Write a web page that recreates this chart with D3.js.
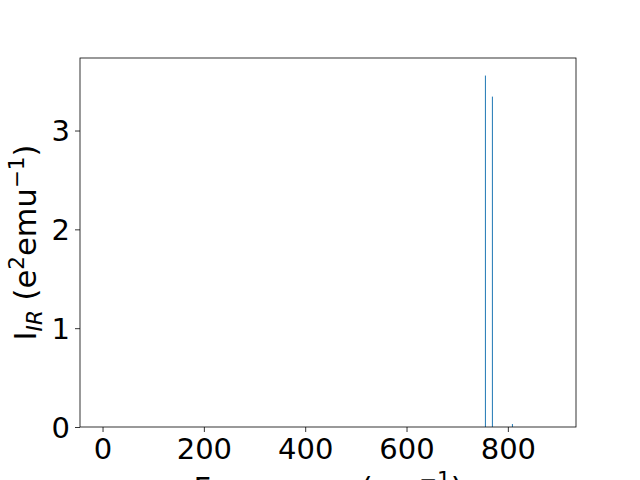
<!DOCTYPE html>
<html>
<head>
<meta charset="utf-8">
<script src="https://cdn.jsdelivr.net/npm/d3@7"></script>
<style>
  body { margin: 0; background: #fff; }
  svg { font-family: "DejaVu Sans", sans-serif; }
</style>
</head>
<body>
<svg id="graphic"></svg>
<script>
// IR peaks (frequency in cm-1, intensity)
const frequencies = [0, 755.7, 769.5, 809, 890]
const intensities = [0, 3.556, 3.343, 0.03, 0]
const xTicks = [0, 200, 400, 600, 800]
const yTicks = [0, 1, 2, 3]

const w = 640
const h = 480
const padLeft = 80, padRight = 576, padTop = 58, padBottom = 427

const data = frequencies.map((f, i) => [f, intensities[i]])

// matplotlib style 5% margins
const minX = d3.min(frequencies), maxX = d3.max(frequencies)
const padX = (maxX - minX) * 0.05
const maxY = d3.max(intensities) * 1.05

const xScale = d3.scaleLinear()
    .domain([minX - padX, maxX + padX])
    .range([padLeft, padRight])

const yScale = d3.scaleLinear()
    .domain([0, maxY])
    .range([padBottom, padTop])

const graphic = d3.select("#graphic")
    .attr("width", w)
    .attr("height", h)

// peaks as thin vertical lines
graphic.selectAll("line.peak")
    .data(data)
    .enter()
    .append("line")
    .attr("class", "peak")
    .attr("x1", d => xScale(d[0]))
    .attr("x2", d => xScale(d[0]))
    .attr("y1", yScale(0))
    .attr("y2", d => yScale(d[1]))
    .attr("stroke", "#1f77b4")
    .attr("stroke-width", 1)

// frame
graphic.append("rect")
    .attr("x", padLeft)
    .attr("y", padTop)
    .attr("width", padRight - padLeft)
    .attr("height", padBottom - padTop)
    .attr("fill", "none")
    .attr("stroke", "#000")
    .attr("stroke-width", 0.8)

const axisBottom = d3.axisBottom(xScale).tickValues(xTicks).tickFormat(d3.format("d")).tickSize(5).tickPadding(6)
const axisLeft = d3.axisLeft(yScale).tickValues(yTicks).tickFormat(d3.format("d")).tickSize(5).tickPadding(5)

const gx = graphic.append("g")
    .attr("transform", `translate(0, ${padBottom})`)
    .call(axisBottom)

const gy = graphic.append("g")
    .attr("transform", `translate(${padLeft}, 0)`)
    .call(axisLeft)

for (const g of [gx, gy]) {
    g.select(".domain").remove()
    g.selectAll(".tick line").attr("stroke", "#000").attr("stroke-width", 0.8)
    g.selectAll(".tick text")
        .attr("fill", "#000")
        .style("font-size", "29px")
        .style("font-family", "DejaVu Sans")
}
gy.selectAll(".tick text").attr("dy", "0.36em")

// axis titles
graphic.append("text")
    .attr("x", (padLeft + padRight) / 2)
    .attr("y", 499)
    .attr("text-anchor", "middle")
    .style("font-size", "30.5px")
    .html('Frequency (cm<tspan dy="-12" font-size="21.5px">−1</tspan><tspan dy="12">)</tspan>')

graphic.append("text")
    .attr("transform", `translate(36, ${(padTop + padBottom) / 2}) rotate(-90)`)
    .attr("text-anchor", "middle")
    .style("font-size", "30.5px")
    .html('I<tspan dy="6" font-size="21.5px" font-style="italic">IR</tspan>' +
          '<tspan dy="-6"> (e</tspan><tspan dy="-12" font-size="21.5px">2</tspan>' +
          '<tspan dy="12">emu</tspan><tspan dy="-12" font-size="21.5px">−1</tspan>' +
          '<tspan dy="12">)</tspan>')
</script>
</body>
</html>
